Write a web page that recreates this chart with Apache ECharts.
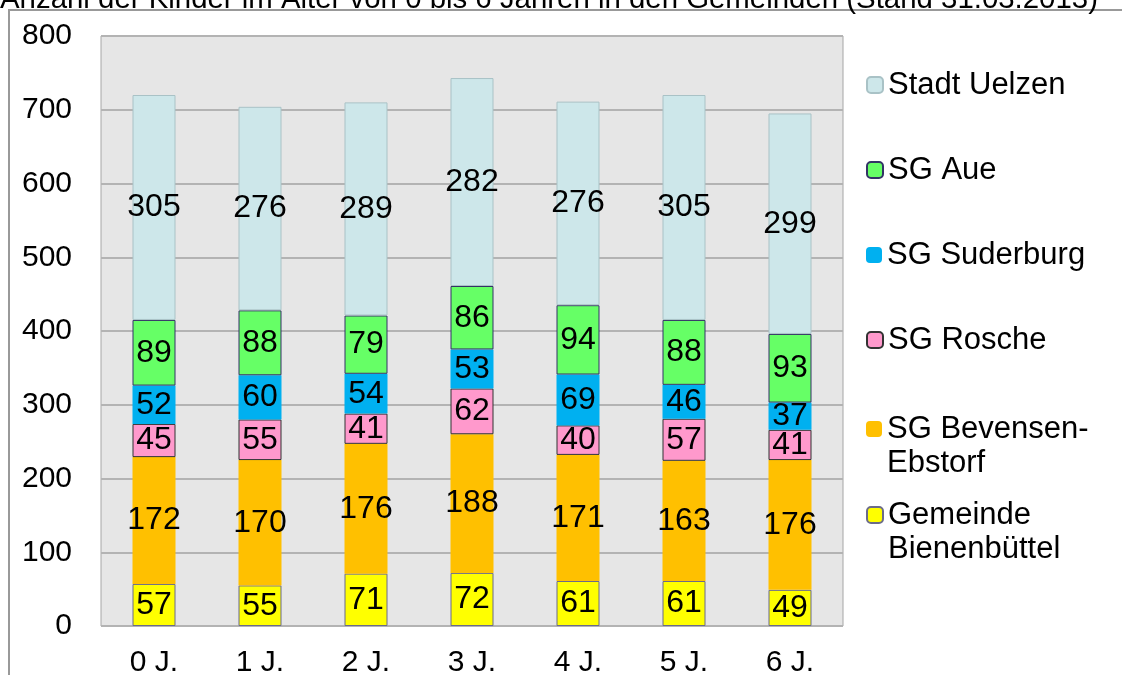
<!DOCTYPE html>
<html>
<head>
<meta charset="utf-8">
<script src="https://cdn.jsdelivr.net/npm/echarts@6/dist/echarts.min.js"></script>
<style>
  html, body { margin: 0; padding: 0; background: #fff; }
  #main { width: 1122px; height: 675px; }
</style>
</head>
<body>
<div id="main"></div>
<script>
const categories = ['0 J.', '1 J.', '2 J.', '3 J.', '4 J.', '5 J.', '6 J.'];
const bienenbuettel = [57, 55, 71, 72, 61, 61, 49];
const bevensen = [172, 170, 176, 188, 171, 163, 176];
const rosche = [45, 55, 41, 62, 40, 57, 41];
const suderburg = [52, 60, 54, 53, 69, 46, 37];
const aue = [89, 88, 79, 86, 94, 88, 93];
const uelzen = [305, 276, 289, 282, 276, 305, 299];

const font = '"Liberation Sans", Arial, sans-serif';

// Reihenfolge von unten nach oben
const seriesDefs = [
    {name: 'Gemeinde\nBienenbüttel', data: bienenbuettel, color: '#ffff00', border: '#6b6b8a', bw: 1},
    {name: 'SG Bevensen-\nEbstorf', data: bevensen, color: '#ffc000', border: '#ffc000', bw: 0},
    {name: 'SG Rosche', data: rosche, color: '#ff99cc', border: '#333333', bw: 1},
    {name: 'SG Suderburg', data: suderburg, color: '#00b0f0', border: '#00b0f0', bw: 0},
    {name: 'SG Aue', data: aue, color: '#66ff66', border: '#333366', bw: 1},
    {name: 'Stadt Uelzen', data: uelzen, color: '#cde7ea', border: '#a9c2c6', bw: 1},
];

// Legende: von oben nach unten, je eine eigene Legende
const legendTops = {
    'Stadt Uelzen': 68,
    'SG Aue': 153,
    'SG Suderburg': 238,
    'SG Rosche': 323,
    'SG Bevensen-\nEbstorf': 378,
    'Gemeinde\nBienenbüttel': 464,
};

const legends = seriesDefs.slice().reverse().map((s) => {
    const twoLines = s.name.indexOf('\n') >= 0;
    return {
        data: [s.name],
        orient: 'vertical',
        left: 866,
        top: legendTops[s.name],
        padding: 0,
        itemWidth: 16,
        itemHeight: 16,
        selectedMode: false,
        // leere erste Zeile, damit das Symbol auf Höhe der ersten Textzeile sitzt
        formatter: twoLines ? (name) => '\n' + name : '{name}',
        textStyle: {
            fontFamily: font,
            fontSize: 31,
            color: '#000',
            lineHeight: 34,
        },
    };
});

var myChart = echarts.init(document.getElementById('main'));

var option = {
    animation: false,
    backgroundColor: '#fff',
    title: {
        text: 'Anzahl der Kinder im Alter von 0 bis 6 Jahren in den Gemeinden (Stand 31.03.2013)',
        left: 0,
        top: -15,
        padding: 0,
        textStyle: {fontFamily: font, fontSize: 29.4, fontWeight: 'normal', color: '#000'},
    },
    graphic: [
        {
            type: 'rect',
            shape: {x: 9, y: 10, width: 1140, height: 700},
            style: {fill: 'none', stroke: '#999', lineWidth: 2},
            silent: true,
            z: -1,
        },
    ],
    legend: legends,
    grid: {
        left: 101,
        top: 36,
        right: 279,
        bottom: 49,
        outerBoundsMode: 'none',
        show: true,
        backgroundColor: '#e6e6e6',
        borderColor: '#a6a6a6',
        borderWidth: 1,
    },
    xAxis: {
        type: 'category',
        data: categories,
        axisLine: {show: false},
        axisTick: {show: false},
        axisLabel: {fontFamily: font, fontSize: 30, color: '#000', margin: 22},
    },
    yAxis: {
        type: 'value',
        min: 0,
        max: 800,
        interval: 100,
        axisLine: {show: false},
        axisTick: {show: false},
        axisLabel: {fontFamily: font, fontSize: 30, color: '#000', margin: 29},
        splitLine: {lineStyle: {color: '#b3b3b3', width: 2}},
    },
    series: seriesDefs.map((s) => ({
        name: s.name,
        type: 'bar',
        stack: 'total',
        barWidth: 43,
        data: s.data,
        itemStyle: {color: s.color, borderColor: s.border, borderWidth: s.bw},
        label: {
            show: true,
            position: 'inside',
            fontFamily: font,
            fontSize: 32,
            color: '#000',
            textBorderWidth: 0,
        },
    })),
};

myChart.setOption(option);
</script>
</body>
</html>
